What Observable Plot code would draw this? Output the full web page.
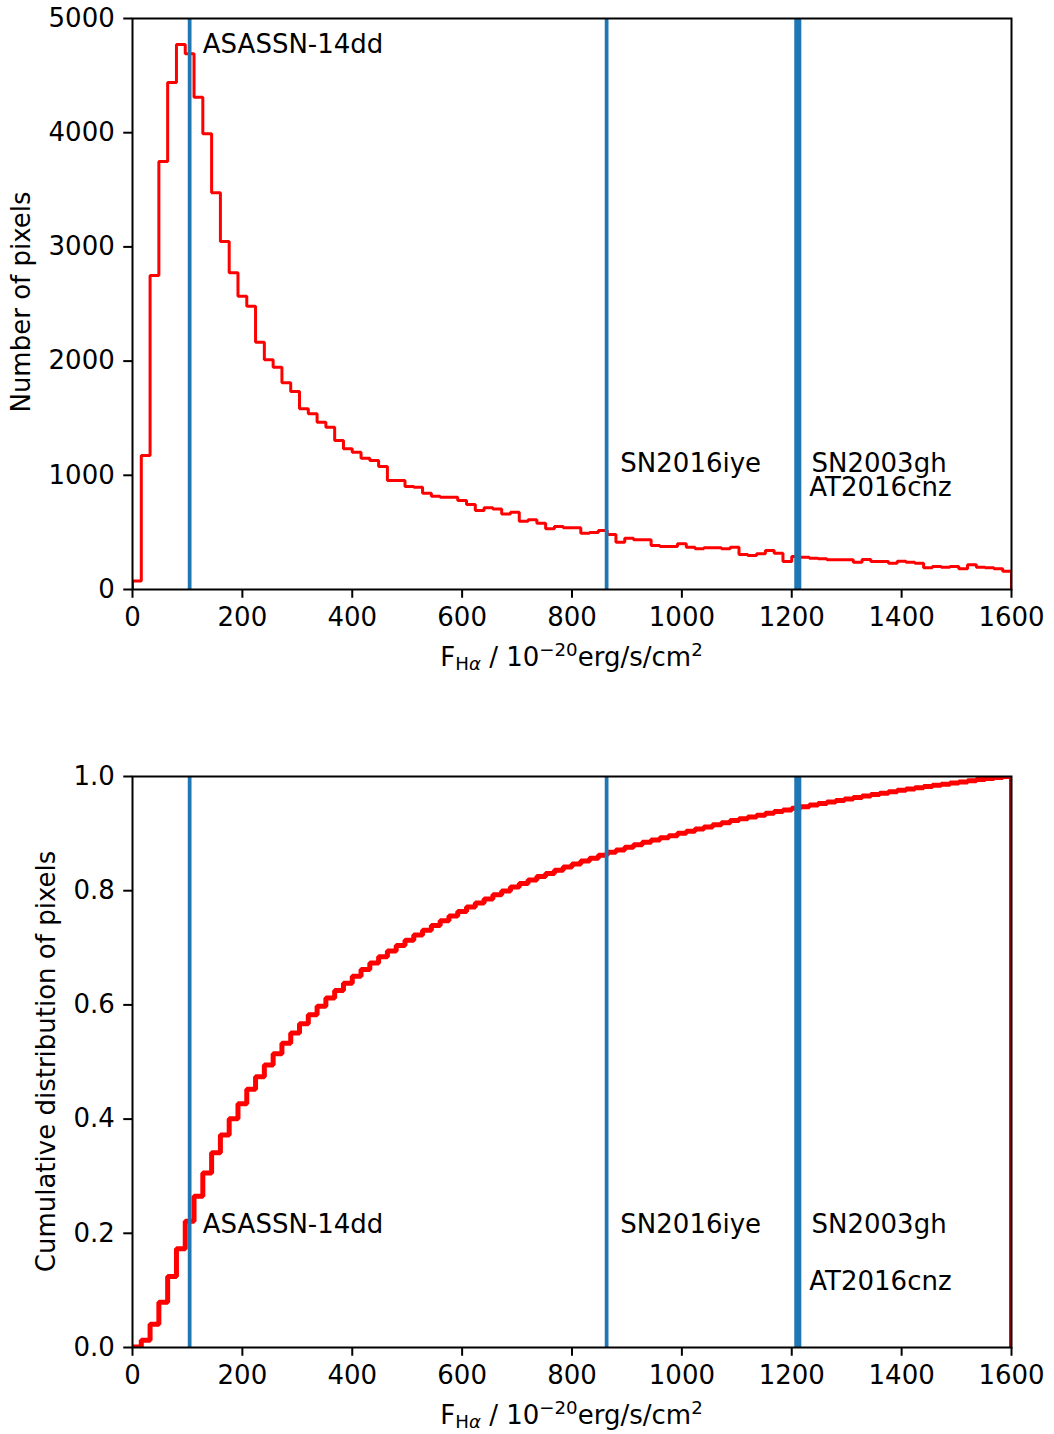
<!DOCTYPE html>
<html>
<head>
<meta charset="utf-8">
<script src="https://cdn.jsdelivr.net/npm/d3@7"></script>
<script src="https://cdn.jsdelivr.net/npm/@observablehq/plot@0.6"></script>
<style>
  html, body { margin: 0; padding: 0; background: white; }
  svg { display: block; }
</style>
</head>
<body>
<div id="chart"></div>
<script>
// ---- Data ----
const binWidth = 16;            // histogram bin width (100 bins over 0–1600)
const pixelCounts = [
  75, 1173, 2750, 3748, 4440, 4773, 4691, 4311, 3990, 3474, 3047, 2773, 2568, 2481,
  2166, 2011, 1947, 1810, 1734, 1582, 1538, 1465, 1421, 1305, 1232, 1202, 1150, 1130, 1077,
  955, 955, 902, 896, 843, 817, 808, 808, 779, 744, 692, 715, 706, 662, 677, 598, 610, 581,
  531, 552, 540, 540, 493, 499, 517, 482, 414, 449, 435, 435, 385, 376, 376, 400, 370,
  356, 365, 365, 356, 370, 306, 298, 312, 341, 318, 245, 289, 283, 274, 269, 260, 260, 260,
  239, 263, 245, 245, 230, 248, 239, 230, 190, 201, 195, 201, 181, 216, 195, 190, 181, 160
];
const objects = ["ASASSN-14dd", "SN2016iye", "SN2003gh", "AT2016cnz"];
const objectFlux = [104, 863, 1208, 1214];
const labelX = [128, 888, 1236, 1232];
const labelYTop = [4700, 1025, 1025, 823];
const labelYBottom = [0.2, 0.2, 0.2, 0.1];
const xTicks = [0, 200, 400, 600, 800, 1000, 1200, 1400, 1600];
const yTicksTop = [0, 1000, 2000, 3000, 4000, 5000];
const yTicksBottom = [0, 0.2, 0.4, 0.6, 0.8, 1.0];
const yLabelTop = "Number of pixels";
const yLabelBottom = "Cumulative distribution of pixels";

// ---- Derived tables ----
const total = d3.sum(pixelCounts);
const cdf = Array.from(d3.cumsum(pixelCounts), v => v / total);

function stepPoints(vals) {
  const pts = [{x: 0, y: 0}];
  vals.forEach((v, i) => {
    pts.push({x: i * binWidth, y: v});
    pts.push({x: (i + 1) * binWidth, y: v});
  });
  pts.push({x: vals.length * binWidth, y: 0});
  return pts;
}
const rules = objects.map((name, i) => ({name, flux: objectFlux[i]}));
const labelsTop = objects.map((name, i) => ({name, x: labelX[i], y: labelYTop[i]}));
const labelsBottom = objects.map((name, i) => ({name, x: labelX[i], y: labelYBottom[i]}));

const FONT = "DejaVu Sans";
const FS = 26;
const SFS = 18.2;
const blue = "#1f77b4";

function makePlot({height, marginTop, marginBottom, yDomain, yTicks, yFormat, pts, lineWidth, labels}) {
  return Plot.plot({
    width: 1054,
    height,
    marginLeft: 132,
    marginRight: 43,
    marginTop,
    marginBottom,
    style: {fontFamily: FONT, fontSize: FS + "px", background: "white", color: "black", overflow: "visible"},
    x: {domain: [0, 1600]},
    y: {domain: yDomain},
    marks: [
      Plot.line(pts, {x: "x", y: "y", stroke: "red", strokeWidth: lineWidth, strokeLinejoin: "miter", curve: "linear", clip: true}),
      Plot.ruleX(rules, {x: "flux", stroke: blue, strokeWidth: 3.75}),
      Plot.text(labels, {x: "x", y: "y", text: "name", textAnchor: "start", lineAnchor: "bottom", fontSize: FS, fill: "black"}),
      Plot.axisX({ticks: xTicks, tickFormat: d => String(d), tickSize: 8.75, tickPadding: 9, strokeWidth: 2, label: null, fontSize: FS}),
      Plot.axisY({ticks: yTicks, tickFormat: yFormat, tickSize: 8.75, tickPadding: 9, strokeWidth: 2, label: null, fontSize: FS}),
      Plot.frame({stroke: "black", strokeWidth: 2})
    ]
  });
}

function addXLabel(svg, y) {
  const t = d3.select(svg).append("text")
    .attr("x", 571.5).attr("y", y)
    .attr("text-anchor", "middle")
    .attr("font-family", FONT).attr("font-size", FS).attr("fill", "black");
  t.append("tspan").text("F");
  t.append("tspan").attr("font-size", SFS).attr("dy", 4).text("H");
  t.append("tspan").attr("font-size", SFS).attr("font-style", "italic").text("α");
  t.append("tspan").attr("dy", -4).text(" / 10");
  t.append("tspan").attr("font-size", SFS).attr("dy", -10).text("−20");
  t.append("tspan").attr("dy", 10).text("erg/s/cm");
  t.append("tspan").attr("font-size", SFS).attr("dy", -10).text("2");
}
function addYLabel(svg, x, yc, text) {
  d3.select(svg).append("text")
    .attr("transform", `translate(${x},${yc}) rotate(-90)`)
    .attr("text-anchor", "middle")
    .attr("font-family", FONT).attr("font-size", FS).attr("fill", "black")
    .text(text);
}

const topPanel = makePlot({
  height: 700, marginTop: 18, marginBottom: 111,
  yDomain: [0, 5000], yTicks: yTicksTop, yFormat: d => String(d),
  pts: stepPoints(pixelCounts), lineWidth: 3, labels: labelsTop
});
addXLabel(topPanel, 666);
addYLabel(topPanel, 30, 302, yLabelTop);

const bottomPanel = makePlot({
  height: 734, marginTop: 76, marginBottom: 87,
  yDomain: [0, 1], yTicks: yTicksBottom, yFormat: d => d.toFixed(1),
  pts: stepPoints(cdf), lineWidth: 5, labels: labelsBottom
});
addXLabel(bottomPanel, 724);
addYLabel(bottomPanel, 55, 361.5, yLabelBottom);

const chart = document.getElementById("chart");
chart.appendChild(topPanel);
chart.appendChild(bottomPanel);
</script>
</body>
</html>
